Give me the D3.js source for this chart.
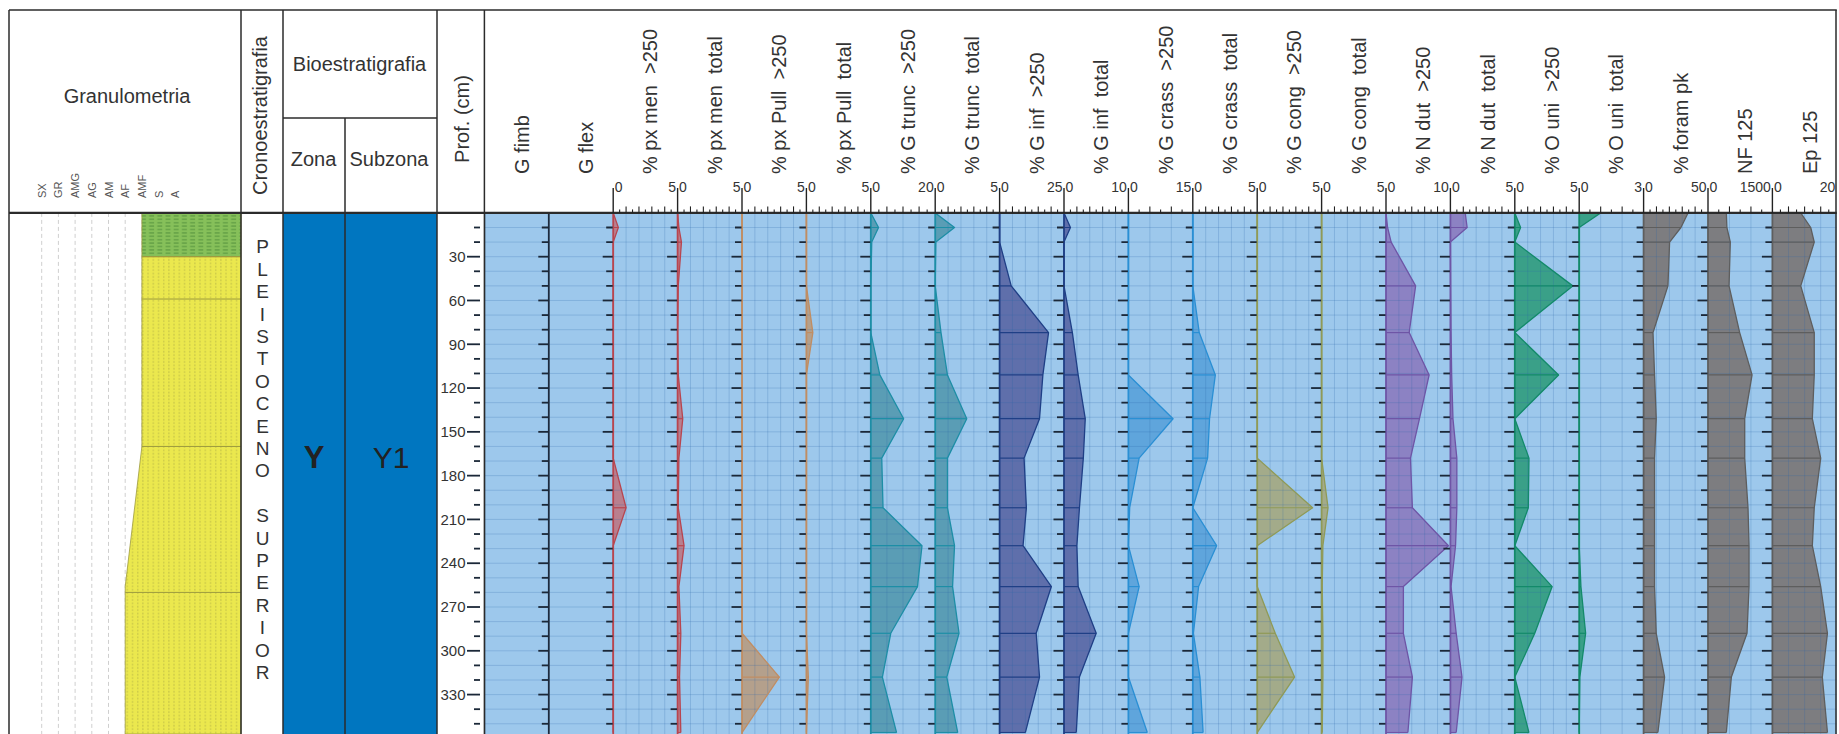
<!DOCTYPE html>
<html>
<head>
<meta charset="utf-8">
<script src="https://cdn.jsdelivr.net/npm/d3@7"></script>
<style>
  html, body { margin: 0; padding: 0; background: #fff; }
  svg { display: block; font-family: "Liberation Sans", Arial, sans-serif; }
  .lbl { white-space: pre; }
</style>
</head>
<body>
<svg id="chart" width="1839" height="734"></svg>
<script>
// sample depths (cm)
const depths = [0, 10, 20, 50, 82, 111, 141, 168, 202, 228, 256, 288, 318, 356];
const depthBottom = 357;

const panelNames = ["G fimb", "G flex", "% px men  >250", "% px men  total", "% px Pull  >250", "% px Pull  total",
  "% G trunc  >250", "% G trunc  total", "% G inf  >250", "% G inf  total", "% G crass  >250", "% G crass  total",
  "% G cong  >250", "% G cong  total", "% N dut  >250", "% N dut  total", "% O uni  >250", "% O uni  total",
  "% foram pk", "NF 125", "Ep 125"];
const panelMax = [null, null, 5, 5, 5, 5, 20, 5, 25, 10, 15, 5, 5, 5, 10, 5, 5, 3, 50, 1500, 20];
const gridSteps = [null, null, 1, 1, 1, 1, 5, 1, 5, 2, 5, 1, 1, 1, 2, 1, 1, 1, 10, 500, 5];
const panelGroup = ["none", "none", "men", "men", "pull", "pull", "trunc", "trunc", "inf", "inf",
  "crass", "crass", "cong", "cong", "dut", "dut", "uni", "uni", "gray", "gray", "gray"];

const pxMen250   = [0, 0.4, 0, 0, 0, 0, 0, 0, 1.0, 0, 0, 0, 0, 0];
const pxMenTot   = [0, 0.1, 0.3, 0.05, 0, 0.05, 0.4, 0.1, 0.05, 0.5, 0.1, 0.25, 0.15, 0.25];
const pxPull250  = [0, 0, 0, 0, 0, 0, 0, 0, 0, 0, 0, 0, 2.9, 0];
const pxPullTot  = [0, 0, 0, 0, 0.5, 0, 0, 0, 0, 0, 0, 0, 0.15, 0];
const gTrunc250  = [0, 2.4, 0.3, 0, 0, 2.8, 10.2, 3.4, 3.8, 15.9, 14.5, 6.2, 3.6, 8];
const gTruncTot  = [0, 1.5, 0.05, 0, 0.45, 0.95, 2.45, 0.95, 0.95, 1.5, 1.35, 1.85, 0.9, 1.75];
const gInf250    = [0, 0, 0, 4.5, 19, 16.8, 15.5, 9.5, 10.4, 9.1, 20.1, 14.2, 15.5, 10];
const gInfTot    = [0, 1.0, 0, 0, 1.3, 2.2, 3.3, 3.0, 2.4, 2.0, 2.2, 5.0, 2.4, 1.9];
const gCrass250  = [0, 0, 0, 0, 0, 0, 10.4, 2.5, 0.3, 0, 2.5, 0, 0, 4.4];
const gCrassTot  = [0, 0, 0, 0, 0.5, 1.75, 1.3, 1.15, 0, 1.85, 0.45, 0.05, 0.55, 0.8];
const gCong250   = [0, 0, 0, 0, 0, 0, 0, 0, 4.3, 0, 0, 1.4, 2.9, 0];
const gCongTot   = [0, 0, 0, 0, 0, 0, 0, 0, 0.5, 0.1, 0.05, 0.1, 0.1, 0.05];
const nDut250    = [0, 0.25, 0.8, 4.6, 3.6, 6.7, 5.2, 3.8, 4.1, 9.7, 2.7, 2.7, 4.1, 3.4];
const nDutTot    = [1.15, 1.3, 0, 0.02, 0.05, 0.1, 0.2, 0.5, 0.5, 0.4, 0.05, 0.45, 0.9, 0.45];
const oUni250    = [0, 0.45, 0, 4.5, 0, 3.4, 0, 1.1, 1.05, 0, 2.9, 1.55, 0, 1.1];
const oUniTot    = [1.0, 0, 0, 0, 0, 0, 0, 0, 0, 0, 0.08, 0.3, 0.03, 0];
const foramPk    = [34.5, 29, 20.2, 18.9, 7.3, 8.5, 9.8, 8.5, 8.5, 8.5, 8.5, 9.8, 16.3, 11.1];
const nf125      = [427, 440, 520, 490, 738, 1026, 855, 855, 932, 956, 956, 909, 544, 427];
const ep125      = [8.8, 11.9, 13, 8.8, 13, 13, 12.4, 15, 13, 12.4, 15, 17.1, 15.5, 17.1];

const panelValues = [null, null, pxMen250, pxMenTot, pxPull250, pxPullTot, gTrunc250, gTruncTot,
  gInf250, gInfTot, gCrass250, gCrassTot, gCong250, gCongTot, nDut250, nDutTot, oUni250, oUniTot,
  foramPk, nf125, ep125];

// lithology
const grainClasses = ["SX", "GR", "AMG", "AG", "AM", "AF", "AMF", "S", "A"];
const lithoProfile = [
  { depth: 0, grain: "AMF" }, { depth: 30, grain: "AMF" }, { depth: 160, grain: "AMF" },
  { depth: 256, grain: "AF" }, { depth: 357, grain: "AF" }
];
const lithoLayers = [{ top: 0, bottom: 30, type: "clay" }, { top: 30, bottom: 357, type: "sand" }];
const lithoBounds = [30, 59, 160, 260];

const chronoText = "PLEISTOCENO SUPERIOR";
const zoneName = "Y";
const subzoneName = "Y1";

const palette = {
  none:  { fill: "none",    stroke: "#1c2a3d" },
  men:   { fill: "#b97f8e", stroke: "#b8454f" },
  pull:  { fill: "#b4a08c", stroke: "#c08d63" },
  trunc: { fill: "#5a9db5", stroke: "#1d8ea6" },
  inf:   { fill: "#5f6fab", stroke: "#1f3f86" },
  crass: { fill: "#5fa5dc", stroke: "#2a8fd4" },
  cong:  { fill: "#a3ab8a", stroke: "#8f9a57" },
  dut:   { fill: "#8c82c3", stroke: "#6e55a6" },
  uni:   { fill: "#3aa088", stroke: "#138a6a" },
  gray:  { fill: "#7d7d80", stroke: "#5e5e5e" }
};

const Log = {
  svg: null,
  y: null,
  x: null,
  frame: { left: 9, top: 10, head: 212.9, right: 1836.8, bottom: 734 },
  cols: { granRight: 241, chronoRight: 283, zoneRight: 345, bioRight: 437, profRight: 484.4 },

  init() {
    this.svg = d3.select("#chart");
    this.y = d3.scaleLinear().domain([0, depthBottom]).range([this.frame.head, this.frame.bottom]);
    this.x = d3.scaleBand().domain(panelNames).range([this.cols.profRight, this.frame.right]);
    this.defs();
    this.drawLithology();
    this.drawBio();
    this.drawPanels();
    this.drawDepthAxis();
    this.drawFrame();
    this.drawHeader();
  },

  defs() {
    const defs = this.svg.append("defs");
    const sand = defs.append("pattern").attr("id", "sand")
      .attr("patternUnits", "userSpaceOnUse").attr("width", 5.2).attr("height", 3.4);
    sand.append("rect").attr("width", 5.2).attr("height", 3.4).attr("fill", "#ebe84e");
    sand.append("rect").attr("x", 2).attr("y", 0.6).attr("width", 1).attr("height", 1.8)
      .attr("fill", "#b6b445").attr("opacity", 0.8);
    const clay = defs.append("pattern").attr("id", "clay")
      .attr("patternUnits", "userSpaceOnUse").attr("width", 8.2).attr("height", 3.4);
    clay.append("rect").attr("width", 8.2).attr("height", 3.4).attr("fill", "#86c05a");
    clay.append("rect").attr("x", 1.5).attr("y", 1.2).attr("width", 5).attr("height", 1)
      .attr("fill", "#4d8a38").attr("opacity", 0.85);
    defs.append("clipPath").attr("id", "dataClip").append("rect")
      .attr("x", this.cols.profRight).attr("y", this.frame.head)
      .attr("width", this.frame.right - this.cols.profRight)
      .attr("height", this.frame.bottom - this.frame.head);
  },

  drawLithology() {
    const y = this.y;
    const gx = d3.scalePoint().domain(grainClasses).range([41.7, 175.3]);
    const g = this.svg.append("g");
    // dashed grain-size guides
    g.selectAll("line.guide").data(grainClasses).enter().append("line")
      .attr("x1", d => gx(d)).attr("x2", d => gx(d))
      .attr("y1", this.frame.head).attr("y2", this.frame.bottom)
      .attr("stroke", "#cfcfcf").attr("stroke-width", 1).attr("stroke-dasharray", "4,3");
    // layers
    lithoLayers.forEach(layer => {
      const pts = lithoProfile.filter(p => p.depth >= layer.top && p.depth <= layer.bottom)
        .map(p => [gx(p.grain), y(p.depth)]);
      pts.push([this.cols.granRight, y(layer.bottom)], [this.cols.granRight, y(layer.top)]);
      g.append("path").attr("d", d3.line()(pts) + "Z")
        .attr("fill", `url(#${layer.type})`).attr("stroke", "#9d9b3e").attr("stroke-width", 0.8);
    });
    const edgeAt = d => {
      const k = d3.bisector(p => p.depth).left(lithoProfile, d);
      const a = lithoProfile[Math.max(0, k - 1)], b = lithoProfile[Math.min(lithoProfile.length - 1, k)];
      if (a === b || b.depth === a.depth) return gx(b.grain);
      const t = (d - a.depth) / (b.depth - a.depth);
      return gx(a.grain) + t * (gx(b.grain) - gx(a.grain));
    };
    g.selectAll("line.bound").data(lithoBounds).enter().append("line")
      .attr("x1", d => edgeAt(d)).attr("x2", this.cols.granRight)
      .attr("y1", d => y(d)).attr("y2", d => y(d))
      .attr("stroke", "#9d9b3e").attr("stroke-width", 1);
    // grain labels
    g.selectAll("text.grain").data(grainClasses).enter().append("text")
      .attr("transform", d => `translate(${gx(d) + 4},198) rotate(-90)`)
      .attr("font-size", 11).attr("fill", "#555").text(d => d);
  },

  drawBio() {
    const y = this.y, c = this.cols, f = this.frame;
    const g = this.svg.append("g");
    g.append("rect").attr("x", c.chronoRight).attr("y", f.head)
      .attr("width", c.bioRight - c.chronoRight).attr("height", f.bottom - f.head).attr("fill", "#0076c0");
    const chars = chronoText.split("");
    g.selectAll("text.chrono").data(chars).enter().append("text")
      .attr("x", (c.granRight + c.chronoRight) / 2 + 0.5)
      .attr("y", (d, i) => 246.7 + i * 22.4)
      .attr("dy", "0.35em").attr("text-anchor", "middle")
      .attr("font-size", 19).attr("fill", "#333").text(d => d);
    g.append("text").attr("x", (c.chronoRight + c.zoneRight) / 2).attr("y", 457).attr("dy", "0.35em")
      .attr("text-anchor", "middle").attr("font-size", 31).attr("font-weight", "bold")
      .attr("fill", "#222").text(zoneName);
    g.append("text").attr("x", (c.zoneRight + c.bioRight) / 2).attr("y", 457).attr("dy", "0.35em")
      .attr("text-anchor", "middle").attr("font-size", 30).attr("fill", "#222").text(subzoneName);
  },

  drawPanels() {
    const y = this.y, f = this.frame, c = this.cols;
    const pw = this.x.bandwidth();
    const g = this.svg.append("g").attr("clip-path", "url(#dataClip)");
    g.append("rect").attr("x", c.profRight).attr("y", f.head)
      .attr("width", f.right - c.profRight).attr("height", f.bottom - f.head).attr("fill", "#9dc8ec");

    const fills = g.append("g");
    const grid = g.append("g");
    const lines = g.append("g");
    const ticks = g.append("g");

    // horizontal grid
    grid.selectAll("line.h").data(d3.range(10, depthBottom, 10)).enter().append("line")
      .attr("x1", c.profRight).attr("x2", f.right)
      .attr("y1", d => y(d)).attr("y2", d => y(d))
      .attr("stroke", "#2a64a8").attr("stroke-opacity", 0.22).attr("stroke-width", 1);

    panelNames.forEach((name, i) => {
      const left = this.x(name);
      const style = palette[panelGroup[i]];
      const vals = panelValues[i];
      if (vals) {
        const sx = d3.scaleLinear().domain([0, panelMax[i]]).range([left, left + pw]);
        const rows = depths.map((d, k) => ({ d, v: vals[k] }));
        fills.append("path")
          .attr("d", d3.area().x0(sx(0)).x1(r => sx(r.v)).y(r => y(r.d))(rows))
          .attr("fill", style.fill);
        // vertical grid
        const step = gridSteps[i];
        grid.selectAll(null).data(d3.range(step, panelMax[i] - step / 2, step)).enter().append("line")
          .attr("x1", d => sx(d)).attr("x2", d => sx(d))
          .attr("y1", f.head).attr("y2", f.bottom)
          .attr("stroke", "#2a64a8").attr("stroke-opacity", 0.22).attr("stroke-width", 1);
        // outline and sample lines
        lines.append("path")
          .attr("d", d3.line().x(r => sx(r.v)).y(r => y(r.d))(rows))
          .attr("fill", "none").attr("stroke", style.stroke).attr("stroke-width", 1.3)
          .attr("stroke-linejoin", "round");
        lines.selectAll(null).data(rows.filter(r => r.v > 0)).enter().append("line")
          .attr("x1", sx(0)).attr("x2", r => sx(r.v))
          .attr("y1", r => y(r.d)).attr("y2", r => y(r.d))
          .attr("stroke", style.stroke).attr("stroke-width", 1.2);
      }
      // zero line
      lines.append("line").attr("x1", left).attr("x2", left)
        .attr("y1", f.head).attr("y2", f.bottom)
        .attr("stroke", style.stroke).attr("stroke-width", i === 0 ? 1.6 : 1.8);
      // depth ticks
      if (i > 0) {
        ticks.selectAll(null).data(d3.range(10, depthBottom, 10)).enter().append("line")
          .attr("x1", d => left - (d % 30 === 0 ? 10.5 : 7)).attr("x2", left - 0.5)
          .attr("y1", d => y(d)).attr("y2", d => y(d))
          .attr("stroke", "#1b2838").attr("stroke-width", 1.8);
      }
    });
  },

  drawDepthAxis() {
    const y = this.y;
    const g = this.svg.append("g");
    const tv = d3.range(10, depthBottom, 10);
    g.selectAll("line").data(tv).enter().append("line")
      .attr("x1", d => d % 30 === 0 ? 467 : 474).attr("x2", 480)
      .attr("y1", d => y(d)).attr("y2", d => y(d))
      .attr("stroke", "#1b2838").attr("stroke-width", 1.8);
    g.selectAll("text").data(tv.filter(d => d % 30 === 0)).enter().append("text")
      .attr("x", 465.5).attr("y", d => y(d)).attr("dy", "0.35em")
      .attr("text-anchor", "end").attr("font-size", 15).attr("fill", "#333").text(d => d);
  },

  drawFrame() {
    const f = this.frame, c = this.cols;
    const g = this.svg.append("g").attr("stroke", "#2b2b2b").attr("stroke-width", 1.5);
    g.append("line").attr("x1", f.left).attr("x2", f.right).attr("y1", f.top).attr("y2", f.top);
    g.append("line").attr("x1", f.left).attr("x2", f.right).attr("y1", f.head).attr("y2", f.head)
      .attr("stroke-width", 2.2);
    [f.left, c.granRight, c.chronoRight, c.bioRight, c.profRight, f.right - 0.8].forEach(x => {
      g.append("line").attr("x1", x).attr("x2", x).attr("y1", f.top).attr("y2", f.bottom);
    });
    g.append("line").attr("x1", c.zoneRight).attr("x2", c.zoneRight).attr("y1", 118).attr("y2", f.bottom);
    g.append("line").attr("x1", c.chronoRight).attr("x2", c.bioRight).attr("y1", 118).attr("y2", 118);
  },

  drawHeader() {
    const f = this.frame, c = this.cols;
    const pw = this.x.bandwidth();
    const g = this.svg.append("g").attr("fill", "#333");
    g.append("text").attr("x", (f.left + c.granRight) / 2 + 2).attr("y", 103)
      .attr("text-anchor", "middle").attr("font-size", 20).text("Granulometria");
    g.append("text").attr("transform", `translate(267,195) rotate(-90)`)
      .attr("font-size", 20).text("Cronoestratigrafia");
    g.append("text").attr("x", 359.5).attr("y", 70.5)
      .attr("text-anchor", "middle").attr("font-size", 20).text("Bioestratigrafia");
    g.append("text").attr("x", 313.5).attr("y", 165.5)
      .attr("text-anchor", "middle").attr("font-size", 20).text("Zona");
    g.append("text").attr("x", 389).attr("y", 165.5)
      .attr("text-anchor", "middle").attr("font-size", 20).text("Subzona");
    g.append("text").attr("transform", `translate(469,119) rotate(-90)`)
      .attr("text-anchor", "middle").attr("font-size", 20).text("Prof. (cm)");

    panelNames.forEach((name, i) => {
      const left = this.x(name);
      g.append("text").attr("class", "lbl")
        .attr("transform", `translate(${left + pw / 2 + 12},174) rotate(-90)`)
        .attr("font-size", 20).text(name);
      if (panelMax[i] === null) return;
      const sx = d3.scaleLinear().domain([0, panelMax[i]]).range([left, left + pw]);
      const step = gridSteps[i] / 2;
      const tv = d3.range(step, panelMax[i] - step / 2, step);
      const axis = this.svg.append("g").attr("stroke", "#222").attr("stroke-width", 1.1);
      axis.append("line").attr("x1", left).attr("x2", left).attr("y1", 188).attr("y2", f.head)
        .attr("stroke-width", 1.4);
      axis.selectAll(null).data(tv).enter().append("line")
        .attr("x1", d => sx(d)).attr("x2", d => sx(d))
        .attr("y1", (d, k) => f.head - (k % 2 === 1 ? 6.5 : 3.5)).attr("y2", f.head);
      g.append("text").attr("x", left + 1.5).attr("y", 192).attr("font-size", 14).text("0");
      g.append("text").attr("x", left + pw - 1.5).attr("y", 192).attr("text-anchor", "end")
        .attr("font-size", 14).text(panelMax[i]);
    });
  }
};

Log.init();
</script>
</body>
</html>
